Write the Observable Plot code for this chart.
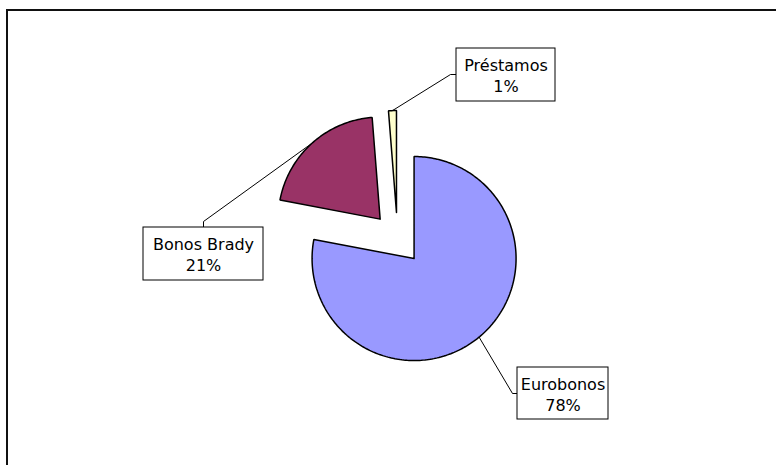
<!DOCTYPE html>
<html>
<head>
<meta charset="utf-8">
<script src="https://cdn.jsdelivr.net/npm/d3@7"></script>
<script src="https://cdn.jsdelivr.net/npm/@observablehq/plot@0.6"></script>
<style>
  html, body { margin: 0; padding: 0; background: #fff; }
  #chart svg { display: block; }
</style>
</head>
<body>
<div id="chart"></div>
<script>
// ---- data ----
const categories = ["Eurobonos", "Bonos Brady", "Préstamos"];
const shares = [78, 20.75, 1.25];           // percent of total
const shareLabels = ["78%", "21%", "1%"];
const sliceColors = ["#9999FF", "#993366", "#FFFFCC"];

// ---- layout (pixels) ----
const W = 776, H = 465;
const center = [397, 238];
const radius = 102;
const explode = 26;
const boxes = {
  "Eurobonos":   {x1: 517, y1: 367, x2: 608, y2: 419, elbow: [512, 393], join: [517, 393]},
  "Bonos Brady": {x1: 143, y1: 227, x2: 263, y2: 280, elbow: [203, 221], join: [203, 227]},
  "Préstamos":   {x1: 456, y1: 48,  x2: 555, y2: 101, elbow: [450, 74],  join: [456, 74]}
};

// ---- geometry from the values ----
const total = d3.sum(shares);
let cum = 0;
const slices = categories.map((name, i) => {
  const a0 = cum / total * 2 * Math.PI;
  cum += shares[i];
  const a1 = cum / total * 2 * Math.PI;
  const mid = (a0 + a1) / 2;
  const vx = center[0] + explode * Math.sin(mid);
  const vy = center[1] - explode * Math.cos(mid);
  return {name, a0, a1, mid, vx, vy, label: name + "\n" + shareLabels[i]};
});

const polyPts = [];
for (const s of slices) {
  polyPts.push({name: s.name, x: s.vx, y: s.vy});
  const n = Math.max(4, Math.ceil((s.a1 - s.a0) / (Math.PI / 180)));
  for (let k = 0; k <= n; k++) {
    const a = s.a0 + (s.a1 - s.a0) * k / n;
    polyPts.push({name: s.name, x: s.vx + radius * Math.sin(a), y: s.vy - radius * Math.cos(a)});
  }
  polyPts.push({name: s.name, x: s.vx, y: s.vy});
}

const leaderPts = [];
for (const s of slices) {
  const b = boxes[s.name];
  leaderPts.push({name: s.name, x: s.vx + radius * Math.sin(s.mid), y: s.vy - radius * Math.cos(s.mid)});
  leaderPts.push({name: s.name, x: b.elbow[0], y: b.elbow[1]});
  leaderPts.push({name: s.name, x: b.join[0], y: b.join[1]});
}

const boxData = slices.map(s => ({...boxes[s.name], label: s.label,
  cx: (boxes[s.name].x1 + boxes[s.name].x2) / 2, cy: (boxes[s.name].y1 + boxes[s.name].y2) / 2}));

const chart = Plot.plot({
  width: W, height: H,
  margin: 0,
  x: {domain: [0, W], axis: null},
  y: {domain: [0, H], reverse: true, axis: null},
  color: {domain: categories, range: sliceColors},
  style: {background: "#fff", fontFamily: "'DejaVu Sans', Verdana, sans-serif"},
  marks: [
    Plot.rect([{}], {x1: 7, y1: 10, x2: 800, y2: 500, fill: "none", stroke: "#111", strokeWidth: 2}),
    Plot.line(leaderPts, {x: "x", y: "y", z: "name", stroke: "#000", strokeWidth: 1, curve: "linear"}),
    Plot.line(polyPts, {x: "x", y: "y", z: "name", fill: "name", stroke: "#000", strokeWidth: 1.5, strokeLinejoin: "miter"}),
    Plot.rect(boxData, {x1: "x1", x2: "x2", y1: "y1", y2: "y2", fill: "#fff", stroke: "#000", strokeWidth: 1}),
    Plot.text(boxData, {x: "cx", y: "cy", text: "label", fontSize: 16, lineHeight: 1.32, fill: "#000", textAnchor: "middle", lineAnchor: "middle"})
  ]
});
document.getElementById("chart").appendChild(chart);
</script>
</body>
</html>
